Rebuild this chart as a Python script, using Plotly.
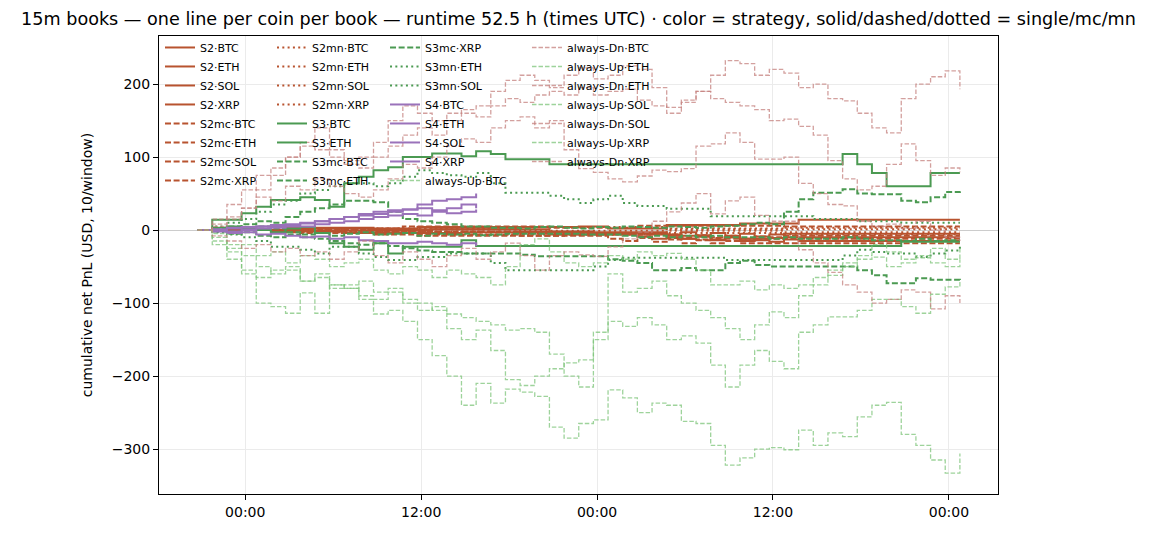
import pandas as pd
import plotly.graph_objects as go

# hourly samples, first one at 20:45 UTC, 53 points
TIMES = pd.date_range("2025-01-01 20:45", periods=53, freq="h")
X_TICKS = pd.date_range("2025-01-02 00:00", periods=5, freq="12h")
X_RANGE = ["2025-01-01 18:07", "2025-01-04 03:21"]
Y_TICKS = [-300, -200, -100, 0, 100, 200]
Y_RANGE = [-361.6, 265.8]

# S2 family (single / mc / mn)
S2_BTC = [0, 0, 0, 0, 0, 0, 0, 2, 2, 2, 2, 2, 2, 2, 2, 4, 4, 4, 4, 4,
          4, 4, 4, 4, 4, 4, 5, 5, 2, 2, 2, 2, 7, 7, 7, 7, 7, 9, 9, 9,
          9, 14, 14, 14, 14, 14, 14, 14, 14, 14, 14, 14, 14]
S2_ETH = [0, 0, 0, 0, 0, -2, -2, -2, -2, -2, -4, -4, -4, -4, -4, -4, -4, -4, -3, -3,
          -3, -3, -3, -3, -6, -6, -6, -6, -6, -6, -9, -12, -8, -12, -9, -13, -10, -12, -14, -11,
          -10, -10, -10, -10, -10, -10, -10, -10, -10, -10, -10, -10, -10]
S2_SOL = [0, 0, 0, 0, 0, 0, 3, 3, 3, 3, 3, 3, 1, 1, 1, 1, 1, 1, 1, 1,
          1, 1, -2, -2, -2, -2, -2, -5, -5, -5, -5, -5, -8, -12, -9, -14, -10, -15, -12, -16,
          -13, -15, -15, -15, -15, -15, -15, -15, -15, -15, -15, -15, -15]
S2_XRP = [0, 0, 0, 0, 0, 0, 0, 0, -1, -1, -1, -1, -1, -1, -1, -1, 1, 1, 1, 1,
          1, 1, 1, 1, -3, -3, -3, -3, -3, -3, -3, -3, -6, -3, -7, -4, -8, -5, -9, -6,
          -5, -5, -5, -5, -5, -5, -5, -5, -5, -5, -5, -5, -5]
S2MC_BTC = [0, 0, 0, 0, 0, 0, 2, 2, 2, 2, 2, 2, 2, 2, 5, 5, 5, 5, 5, 5,
            5, 5, 5, 5, 3, 3, 3, 3, 3, 3, 6, 6, 6, 6, 6, 6, 6, 6, 6, 6,
            5, 5, 5, 5, 5, 5, 5, 5, 5, 5, 5, 5, 5]
S2MC_ETH = [0, 0, 0, 0, 0, 0, -3, -3, -3, -3, -3, -3, -6, -6, -6, -6, -6, -6, -6, -6,
            -6, -6, -8, -8, -8, -8, -8, -8, -12, -15, -11, -16, -13, -18, -14, -18, -15, -18, -18, -18,
            -18, -18, -18, -18, -18, -18, -18, -18, -18, -18, -18, -18, -18]
S2MC_SOL = [0, 0, 0, 0, 0, 0, 0, -4, -4, -4, -4, -4, -4, -4, -4, -8, -8, -8, -8, -8,
            -8, -8, -8, -8, -8, -6, -6, -6, -6, -6, -6, -6, -6, -10, -7, -11, -8, -12, -9, -10,
            -8, -8, -8, -8, -8, -8, -8, -8, -8, -8, -8, -8, -8]
S2MC_XRP = [0, 0, 0, 0, 0, 1, 1, 1, 1, 1, 1, 1, -2, -2, -2, -2, -2, -2, -2, -2,
            -2, -2, -5, -5, -5, -5, -5, -5, -5, -5, -9, -6, -11, -8, -13, -10, -12, -14, -12, -12,
            -12, -12, -12, -12, -12, -12, -12, -12, -12, -12, -12, -12, -12]
S2MN_BTC = [0, 0, 0, 0, 0, 0, 0, 0, 0, 0, -2, -2, -2, -2, -2, -2, -2, -2, -2, -2,
            -2, -2, -4, -4, -4, -4, -4, -4, -4, -4, -4, -4, -1, -1, -1, -1, -1, -1, -1, -1,
            -3, -3, -3, -3, -3, -3, -3, -3, -3, -3, -3, -3, -3]
S2MN_ETH = [0, 0, 0, 0, 0, 0, 0, 0, 2, 2, 2, 2, 2, 2, 2, 2, 2, 2, 2, 2,
            4, 4, 4, 4, 4, 4, 4, 4, 4, 4, 4, 4, 1, 1, 1, 1, 1, 1, 1, 1,
            3, 3, 3, 3, 3, 3, 3, 3, 3, 3, 3, 3, 3]
S2MN_SOL = [0, 0, 0, 0, 0, 0, 0, 0, 0, -3, -3, -3, -3, -3, -3, -3, -3, -3, -3, -6,
            -6, -6, -6, -6, -6, -6, -6, -6, -6, -6, -6, -4, -4, -4, -4, -4, -4, -4, -4, -4,
            -6, -6, -6, -6, -6, -6, -6, -6, -6, -6, -6, -6, -6]
S2MN_XRP = [0, 0, 0, 0, 0, 0, 0, 0, 0, 0, 0, 0, 1, 1, 1, 1, 1, 1, 1, 1,
            1, 1, -1, -1, -1, -1, -1, -1, -1, -1, -1, -1, 2, 2, 2, 2, 2, 2, 2, 2,
            1, 1, 1, 1, 1, 1, 1, 1, 1, 1, 1, 1, 1]

# S3 family
S3_BTC = [0, 14, 14, 23, 32, 41, 41, 45, 41, 32, 64, 73, 82, 86, 100, 100, 105, 105, 101, 108,
          104, 97, 97, 97, 90, 90, 90, 90, 90, 90, 90, 90, 90, 90, 90, 90, 90, 90, 90, 90,
          90, 90, 90, 90, 104, 90, 78, 60, 60, 60, 78, 78, 78]
S3_ETH = [0, 3, 5, 2, 0, -3, 2, 4, -4, -18, -23, -27, -18, -32, -23, -23, -23, -23, -14, -22,
          -22, -22, -22, -22, -22, -22, -22, -22, -22, -22, -22, -22, -22, -22, -22, -22, -22, -22, -22, -22,
          -22, -22, -22, -22, -22, -22, -22, -22, -16, -16, -16, -16, -16]
S3MC_BTC = [0, 2, 5, 8, 12, 10, 18, 25, 30, 35, 40, 40, 38, 25, 15, 12, 10, 8, 5, 5,
            3, 3, 2, 4, 5, 3, 2, 4, 3, 5, 4, 3, 5, 4, 3, 5, 6, 8, 10, 8,
            25, 42, 51, 51, 56, 50, 49, 49, 40, 38, 45, 52, 53]
S3MC_ETH = [0, -2, -5, -3, -8, -10, -6, -10, -12, -15, -18, -20, -18, -22, -25, -28, -30, -30, -32, -32,
            -32, -32, -34, -36, -36, -36, -36, -36, -40, -42, -45, -55, -55, -52, -55, -55, -45, -42, -48, -50,
            -50, -50, -50, -50, -50, -55, -62, -73, -73, -66, -68, -68, -70]
S3MC_XRP = [0, 1, -2, 3, 5, 2, -3, -6, -4, -8, -5, -3, -6, -5, -4, -8, -5, -6, -5, -7,
            -6, -5, -5, -5, -5, -5, -6, -6, -6, -8, -10, -8, -10, -8, -10, -8, -10, -10, -10, -12,
            -10, -12, -12, -12, -10, -12, -14, -14, -15, -12, -15, -14, -14]
S3MN_ETH = [0, 5, 10, 15, 25, 35, 40, 50, 55, 60, 64, 64, 60, 64, 73, 82, 78, 75, 73, 78,
            64, 51, 51, 51, 47, 42, 37, 42, 47, 37, 33, 33, 29, 29, 29, 19, 19, 19, 19, 19,
            19, 19, 15, 15, 15, 12, 12, 12, 10, 10, 10, 10, 10]
S3MN_SOL = [0, -3, -6, -10, -15, -23, -23, -27, -32, -23, -23, -32, -37, -41, -41, -37, -37, -32, -32, -32,
            -45, -55, -55, -55, -55, -55, -55, -50, -41, -38, -38, -38, -38, -38, -38, -38, -41, -41, -41, -41,
            -41, -41, -41, -41, -35, -27, -30, -32, -32, -37, -32, -28, -23]

# S4 only runs the first ~19 h
S4_BTC = [0, 0, 2, 4, 5, 5, 8, 10, 12, 15, 18, 20, 22, 25, 28, 35, 40, 42, 45, 50]
S4_ETH = [0, 1, 3, 3, 5, 7, 6, 9, 12, 15, 18, 22, 25, 27, 28, 30, 27, 30, 35, 30]
S4_SOL = [0, 0, -2, 0, 2, 3, 5, 5, 8, 10, 12, 15, 18, 20, 22, 20, 25, 23, 25, 28]
S4_XRP = [0, -2, -4, -3, -6, -5, -8, -10, -9, -12, -10, -14, -15, -18, -18, -16, -18, -20, -18, -22]

# always-Up / always-Dn baselines
UP_BTC = [0, -15, -25, -20, -35, -30, -45, -35, -40, -50, -45, -40, -55, -60, -50, -55, -65, -55, -60, -65,
          -75, -50, -20, -12, -30, -45, -50, -45, -35, -40, -30, -35, -32, -40, -55, -75, -75, -70, -82, -75,
          -80, -75, -65, -55, -45, -35, -20, -30, -40, -35, -25, -40, -23]
DN_BTC = [0, 8, 18, 30, 55, 75, 100, 120, 140, 110, 95, 100, 120, 150, 170, 160, 150, 160, 165, 170,
          190, 205, 212, 205, 195, 212, 222, 207, 212, 225, 220, 195, 160, 175, 190, 212, 232, 228, 212, 220,
          215, 195, 200, 180, 177, 160, 140, 133, 180, 200, 210, 218, 193]
UP_ETH = [0, -10, -30, -55, -65, -55, -50, -70, -60, -75, -80, -70, -85, -80, -95, -100, -110, -135, -150, -137,
          -165, -205, -213, -200, -190, -182, -178, -150, -60, -85, -80, -70, -90, -100, -110, -120, -135, -150, -130, -112,
          -120, -90, -75, -62, -50, -40, -37, -50, -45, -38, -45, -50, -40]
DN_ETH = [0, 15, 35, 55, 75, 85, 100, 115, 110, 100, 90, 85, 100, 115, 130, 140, 130, 150, 160, 155,
          170, 180, 175, 185, 190, 185, 195, 185, 190, 193, 178, 170, 168, 178, 190, 180, 175, 170, 165, 150,
          152, 142, 130, 95, 70, 55, 60, 90, 118, 95, 75, 85, 79]
UP_SOL = [0, -5, -20, -35, -50, -60, -55, -70, -65, -80, -75, -90, -95, -85, -100, -110, -105, -115, -120, -125,
          -130, -137, -135, -140, -170, -200, -215, -140, -125, -132, -120, -130, -150, -145, -155, -185, -215, -185, -165, -180,
          -190, -140, -130, -119, -119, -110, -95, -95, -105, -114, -88, -78, -68]
DN_SOL = [0, 5, 15, 30, 45, 40, 60, 55, 70, 60, 50, 45, 55, 70, 90, 85, 100, 115, 125, 120,
          140, 150, 155, 140, 150, 110, 84, 79, 70, 66, 74, 82, 80, 84, 115, 118, 133, 120, 97, 97,
          100, 64, 50, 35, 33, 12, 5, 8, 2, 12, 0, -10, -15]
UP_XRP = [0, -20, -40, -60, -100, -105, -114, -86, -114, -75, -80, -95, -115, -110, -125, -150, -172, -200, -240, -210,
          -237, -218, -222, -228, -270, -285, -265, -260, -219, -230, -250, -237, -240, -262, -265, -295, -322, -312, -300, -298,
          -301, -274, -295, -278, -283, -256, -240, -236, -280, -295, -315, -333, -306]
DN_XRP = [0, -8, -15, -25, -20, -30, -25, -35, -30, -40, -30, -15, -35, -45, -30, -40, -50, -35, -25, -40,
          -30, -18, -35, -55, -35, -30, -34, -36, -23, -12, -3, 12, 25, 37, 50, 22, 40, 45, 20, 12,
          12, -27, -45, -58, -75, -85, -100, -95, -82, -85, -108, -90, -100]

RUST = "#b8532f"
GREEN = "#4b9a52"
PURPLE = "#9a72ba"
UP_COL = "rgba(125,196,122,0.75)"
DN_COL = "rgba(196,128,126,0.75)"

STRAT_DASH = {"solid": "solid", "mc": "6px,2.6px", "mn": "2px,3.3px"}

# name, values, colour, line kind -- legend order (column major, 8 per column)
series = [
    ("S2·BTC", S2_BTC, RUST, "solid"), ("S2·ETH", S2_ETH, RUST, "solid"),
    ("S2·SOL", S2_SOL, RUST, "solid"), ("S2·XRP", S2_XRP, RUST, "solid"),
    ("S2mc·BTC", S2MC_BTC, RUST, "mc"), ("S2mc·ETH", S2MC_ETH, RUST, "mc"),
    ("S2mc·SOL", S2MC_SOL, RUST, "mc"), ("S2mc·XRP", S2MC_XRP, RUST, "mc"),
    ("S2mn·BTC", S2MN_BTC, RUST, "mn"), ("S2mn·ETH", S2MN_ETH, RUST, "mn"),
    ("S2mn·SOL", S2MN_SOL, RUST, "mn"), ("S2mn·XRP", S2MN_XRP, RUST, "mn"),
    ("S3·BTC", S3_BTC, GREEN, "solid"), ("S3·ETH", S3_ETH, GREEN, "solid"),
    ("S3mc·BTC", S3MC_BTC, GREEN, "mc"), ("S3mc·ETH", S3MC_ETH, GREEN, "mc"),
    ("S3mc·XRP", S3MC_XRP, GREEN, "mc"),
    ("S3mn·ETH", S3MN_ETH, GREEN, "mn"), ("S3mn·SOL", S3MN_SOL, GREEN, "mn"),
    ("S4·BTC", S4_BTC, PURPLE, "solid"), ("S4·ETH", S4_ETH, PURPLE, "solid"),
    ("S4·SOL", S4_SOL, PURPLE, "solid"), ("S4·XRP", S4_XRP, PURPLE, "solid"),
    ("always-Up·BTC", UP_BTC, UP_COL, "always"), ("always-Dn·BTC", DN_BTC, DN_COL, "always"),
    ("always-Up·ETH", UP_ETH, UP_COL, "always"), ("always-Dn·ETH", DN_ETH, DN_COL, "always"),
    ("always-Up·SOL", UP_SOL, UP_COL, "always"), ("always-Dn·SOL", DN_SOL, DN_COL, "always"),
    ("always-Up·XRP", UP_XRP, UP_COL, "always"), ("always-Dn·XRP", DN_XRP, DN_COL, "always"),
]

legend_ids = ["legend", "legend2", "legend3", "legend4"]

fig = go.Figure()
for i, (name, vals, col, kind) in enumerate(series):
    if kind == "always":
        line = dict(color=col, width=1.3, dash="4.5px,2px", shape="hv")
    else:
        line = dict(color=col, width=2, dash=STRAT_DASH[kind], shape="hv")
    fig.add_trace(go.Scatter(
        x=TIMES[:len(vals)], y=vals, mode="lines", name=name, line=line,
        legend=legend_ids[i // 8],
    ))

legend_style = dict(
    bgcolor="rgba(0,0,0,0)", borderwidth=0, font=dict(size=11, color="black"),
    xanchor="left", yanchor="top", y=1.0066, itemwidth=30, tracegroupgap=0,
)
col_x = [0.0012, 0.1347, 0.2694, 0.4386]

axis_style = dict(
    showgrid=True, gridcolor="#ebebeb", gridwidth=0.8,
    ticks="outside", ticklen=5, tickcolor="black", tickfont=dict(size=14),
    showline=True, linecolor="black", linewidth=1, mirror=True,
    automargin=False,
)

# the page body adds an 8px offset, so the figure is sized to the rest of the window
fig.update_layout(
    width=1147, height=526,
    margin=dict(l=151, r=157, t=28, b=40),
    paper_bgcolor="white", plot_bgcolor="white",
    font=dict(family="DejaVu Sans", size=14, color="black"),
    title=dict(
        text="15m books — one line per coin per book — runtime 52.5 h (times UTC) · "
             "color = strategy, solid/dashed/dotted = single/mc/mn",
        x=0.5, xref="paper", xanchor="center", y=1 - 11 / 526, yref="container",
        yanchor="middle", font=dict(size=17.6),
    ),
    legend=dict(x=col_x[0], **legend_style),
    legend2=dict(x=col_x[1], **legend_style),
    legend3=dict(x=col_x[2], **legend_style),
    legend4=dict(x=col_x[3], **legend_style),
    xaxis=dict(range=X_RANGE, tickvals=X_TICKS, tickformat="%H:%M",
               zeroline=False, **axis_style),
    yaxis=dict(range=Y_RANGE, tickvals=Y_TICKS,
               title=dict(text="cumulative net PnL (USD, 10/window)", font=dict(size=14)),
               zeroline=True, zerolinecolor="#cccccc", zerolinewidth=1, **axis_style),
)

fig.write_html("out.html")
